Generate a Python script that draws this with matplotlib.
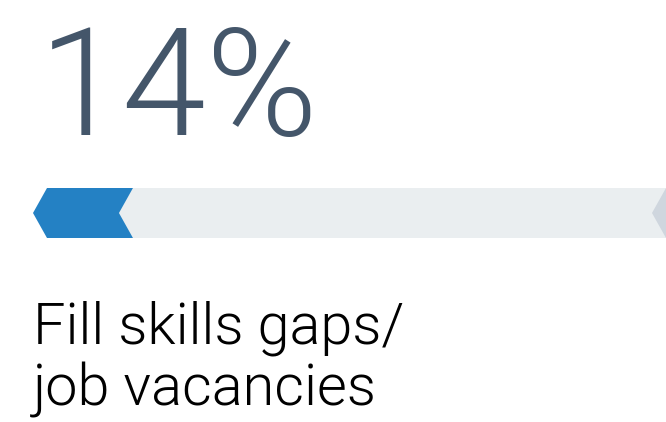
import matplotlib
matplotlib.use("Agg")
import matplotlib.pyplot as plt
from matplotlib.patches import Polygon

# Data
value_pct = 14
value_label = "14%"
category_lines = ["Fill skills gaps/", "job vacancies"]

W, H = 666, 422
fig = plt.figure(figsize=(W / 100, H / 100), dpi=100)
ax = fig.add_axes([0, 0, 1, 1])
ax.set_xlim(0, W)
ax.set_ylim(H, 0)
ax.axis("off")

# bar geometry (pixel space)
x0 = 33          # left tip of bar
top, bot = 188, 238
mid = (top + bot) / 2
notch = 14       # chevron depth
track_len = 714  # 100% length

fill_end = x0 + value_pct / 100 * track_len

# track
ax.add_patch(Polygon([(fill_end - notch, top), (W + 10, top), (W + 10, bot),
                      (fill_end - notch, bot)], closed=True,
                     facecolor="#eaeef0", edgecolor="none"))
# right grey chevron (next segment)
tip = 652
ax.add_patch(Polygon([(tip, mid), (tip + notch, top), (W + 20, top), (W + 20, bot),
                      (tip + notch, bot)], closed=True,
                     facecolor="#cfd6de", edgecolor="none"))
# blue fill
ax.add_patch(Polygon([(x0, mid), (x0 + notch, top), (fill_end, top),
                      (fill_end - notch, mid), (fill_end, bot), (x0 + notch, bot)],
                     closed=True, facecolor="#2481c4", edgecolor="none"))

ax.text(39, 135, value_label, fontsize=109, fontfamily="Roboto", fontweight=300,
        color="#44566a", va="baseline", ha="left")
for i, line in enumerate(category_lines):
    ax.text(33, 344 + 61 * i, line, fontsize=41.5, fontfamily="Roboto", fontweight=300,
            color="black", va="baseline", ha="left")

fig.savefig("out.png", dpi=100)
